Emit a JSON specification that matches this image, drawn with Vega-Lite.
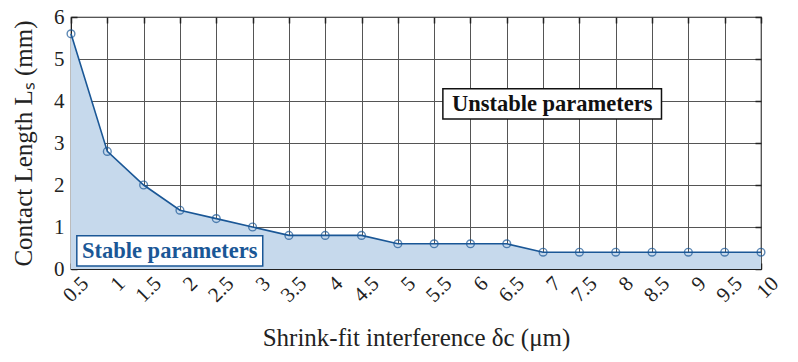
{
  "$schema": "https://vega.github.io/schema/vega-lite/v6.json",
  "width": 690,
  "height": 252,
  "autosize": {"type": "none"},
  "padding": {"left": 71, "top": 17, "right": 37, "bottom": 93},
  "background": "white",
  "config": {
    "font": "Liberation Serif",
    "view": {"stroke": "#222", "strokeWidth": 1.2},
    "axis": {
      "labelFont": "Liberation Serif",
      "titleFont": "Liberation Serif",
      "labelColor": "#222",
      "titleColor": "#222",
      "labelFontSize": 21,
      "titleFontSize": 25,
      "titleFontWeight": "normal",
      "labelOverlap": false,
      "gridColor": "#555",
      "gridOpacity": 1,
      "gridWidth": 1,
      "domainColor": "#222",
      "tickColor": "#222",
      "tickSize": -6,
      "tickWidth": 1.5
    }
  },
  "resolve": {"axis": {"x": "independent", "y": "independent"}},
  "datasets": {
    "curve": [
      {"d": 0.5, "L": 5.6},
      {"d": 1.0, "L": 2.8},
      {"d": 1.5, "L": 2.0},
      {"d": 2.0, "L": 1.4},
      {"d": 2.5, "L": 1.2},
      {"d": 3.0, "L": 1.0},
      {"d": 3.5, "L": 0.8},
      {"d": 4.0, "L": 0.8},
      {"d": 4.5, "L": 0.8},
      {"d": 5.0, "L": 0.6},
      {"d": 5.5, "L": 0.6},
      {"d": 6.0, "L": 0.6},
      {"d": 6.5, "L": 0.6},
      {"d": 7.0, "L": 0.4},
      {"d": 7.5, "L": 0.4},
      {"d": 8.0, "L": 0.4},
      {"d": 8.5, "L": 0.4},
      {"d": 9.0, "L": 0.4},
      {"d": 9.5, "L": 0.4},
      {"d": 10.0, "L": 0.4}
    ],
    "notes": [
      {"label": "Stable parameters", "x1": 0.58, "x2": 3.14, "y1": 0.07, "y2": 0.79, "tx": 1.86, "ty": 0.43, "kind": "stable"},
      {"label": "Unstable parameters", "x1": 5.62, "x2": 8.63, "y1": 3.57, "y2": 4.29, "tx": 7.125, "ty": 3.93, "kind": "unstable"}
    ]
  },
  "layer": [
    {
      "data": {"name": "curve"},
      "mark": {"type": "area", "color": "#c6d9ec", "opacity": 1},
      "encoding": {
        "x": {
          "field": "d", "type": "quantitative",
          "scale": {"domain": [0.5, 10], "nice": false, "zero": false},
          "axis": {
            "orient": "bottom",
            "values": [0.5,1,1.5,2,2.5,3,3.5,4,4.5,5,5.5,6,6.5,7,7.5,8,8.5,9,9.5,10],
            "format": "~g",
            "labelOverlap": false,
            "labelAngle": -45,
            "labelAlign": "right",
            "labelBaseline": "middle",
            "labelPadding": 17,
            "labelOffset": 14,
            "title": "Shrink-fit interference δc (μm)",
            "titlePadding": 20,
            "grid": true
          }
        },
        "y": {
          "field": "L", "type": "quantitative",
          "scale": {"domain": [0, 6], "nice": false},
          "axis": {
            "orient": "left",
            "values": [0,1,2,3,4,5,6],
            "labelOverlap": false,
            "title": "Contact Length Lₛ (mm)",
            "labelPadding": 13,
            "titlePadding": 17,
            "grid": true
          }
        }
      }
    },
    {
      "data": {"name": "curve"},
      "mark": {"type": "line", "color": "#1a5796", "strokeWidth": 1.6},
      "encoding": {
        "x": {
          "field": "d", "type": "quantitative",
          "axis": {"orient": "top", "values": [0.5,1,1.5,2,2.5,3,3.5,4,4.5,5,5.5,6,6.5,7,7.5,8,8.5,9,9.5,10], "labels": false, "title": null, "grid": false, "domain": false}
        },
        "y": {
          "field": "L", "type": "quantitative",
          "axis": {"orient": "right", "values": [0,1,2,3,4,5,6], "labels": false, "title": null, "grid": false, "domain": false}
        }
      }
    },
    {
      "data": {"name": "curve"},
      "mark": {"type": "point", "shape": "circle", "filled": false, "color": "#1a5796", "size": 60, "strokeWidth": 1.4},
      "encoding": {
        "x": {"field": "d", "type": "quantitative", "axis": null},
        "y": {"field": "L", "type": "quantitative", "axis": null}
      }
    },
    {
      "data": {"name": "notes"},
      "mark": {"type": "rect", "fill": "white", "strokeWidth": 1.5},
      "encoding": {
        "x": {"field": "x1", "type": "quantitative", "axis": null},
        "x2": {"field": "x2"},
        "y": {"field": "y1", "type": "quantitative", "axis": null},
        "y2": {"field": "y2"},
        "stroke": {"field": "kind", "type": "nominal", "scale": {"domain": ["stable", "unstable"], "range": ["#1a5796", "#111"]}, "legend": null}
      }
    },
    {
      "data": {"name": "notes"},
      "mark": {"type": "text", "fontWeight": "bold", "fontSize": 22.5, "font": "Liberation Serif", "align": "center", "baseline": "middle"},
      "encoding": {
        "x": {"field": "tx", "type": "quantitative", "axis": null},
        "y": {"field": "ty", "type": "quantitative", "axis": null},
        "text": {"field": "label"},
        "color": {"field": "kind", "type": "nominal", "scale": {"domain": ["stable", "unstable"], "range": ["#1a5796", "#111"]}, "legend": null}
      }
    }
  ]
}
